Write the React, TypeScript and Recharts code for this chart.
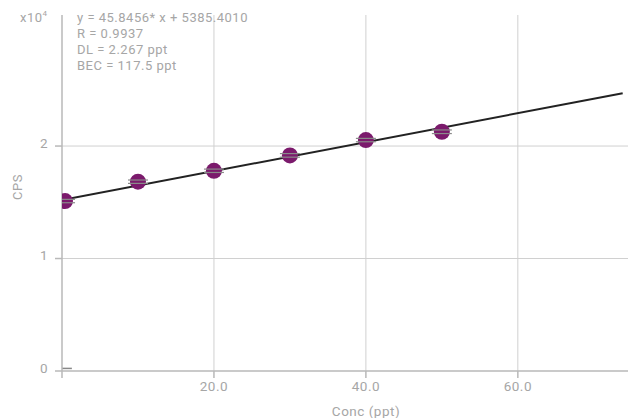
import {
	ComposedChart,
	CartesianGrid,
	ErrorBar,
	Label,
	Line,
	ReferenceLine,
	Scatter,
	XAxis,
	YAxis,
} from "recharts";

// calibration standards
const concs = [0.4, 10, 20, 30, 40, 50];
const cps = [15110, 16830, 17800, 19170, 20530, 21270];
const cpsErr = [150, 150, 150, 160, 150, 160];

// fitted line end points
const fitX = [0, 73.8];
const fitY = [15200, 24700];

const xTicks = [0, 20, 40, 60];
const yTicks = [0, 10000, 20000];

const notes = ["y = 45.8456* x + 5385.4010", "R = 0.9937", "DL = 2.267 ppt", "BEC = 117.5 ppt"];

const points = concs.map((x, i) => ({ x, y: cps[i], err: cpsErr[i] }));
const caps = points.flatMap((p) => [
	{ x: p.x, y: p.y + p.err },
	{ x: p.x, y: p.y - p.err },
]);
const fit = fitX.map((x, i) => ({ x, fy: fitY[i] }));

const PLOT_LEFT = 62;
const axisGray = "#b9b9b9";
const textGray = "#a6a6a6";
const font = "Roboto, sans-serif";
const tickStyle = { fill: textGray, fontSize: 13.5, fontFamily: font, letterSpacing: 0.5 };

// markers are cut off at the y axis, like the original plot
// eslint-disable-next-line @typescript-eslint/no-explicit-any
function Dot(props: any) {
	const { cx, cy } = props;
	return (
		<svg x={PLOT_LEFT} y={0} width={630} height={418} overflow="hidden">
			<circle cx={cx - PLOT_LEFT} cy={cy} r={8} fill="#7b1a6c" />
		</svg>
	);
}

// eslint-disable-next-line @typescript-eslint/no-explicit-any
function Cap(props: any) {
	const { cx, cy } = props;
	return (
		<svg x={PLOT_LEFT} y={0} width={630} height={418} overflow="hidden">
			<line x1={cx - PLOT_LEFT - 10} x2={cx - PLOT_LEFT + 10} y1={cy} y2={cy} stroke="#8a8a8a" strokeWidth={1.2} />
		</svg>
	);
}

export default function App() {
	return (
		<div style={{ position: "fixed", left: 0, top: 0, width: 630, height: 418, background: "#fff", fontFamily: font }}>
			<ComposedChart width={630} height={418} margin={{ top: 15, right: 2, left: 0, bottom: 0 }}>
				<CartesianGrid stroke="#d0d0d0" strokeWidth={1} horizontalValues={[10000, 20000]} verticalValues={[20, 40, 60]} />
				<XAxis
					type="number"
					dataKey="x"
					domain={[0, 74.5]}
					ticks={xTicks}
					tickFormatter={(v: number) => (v === 0 ? "" : v.toFixed(1))}
					height={47}
					allowDataOverflow
					stroke={axisGray}
					strokeWidth={1.5}
					tickSize={7}
					tickMargin={3}
					tick={tickStyle}
				>
					<Label value="Conc (ppt)" position="insideBottom" offset={2} dx={21} style={tickStyle} />
				</XAxis>
				<YAxis
					type="number"
					domain={[0, 31650]}
					ticks={yTicks}
					tickFormatter={(v: number) => String(v / 10000)}
					width={62}
					allowDataOverflow
					stroke={axisGray}
					strokeWidth={1.5}
					tickSize={7}
					tickMargin={7}
					tick={{ ...tickStyle, dy: -3 }}
				>
					<Label
						value="CPS"
						angle={-90}
						position="insideLeft"
						offset={17}
						dy={-6}
						style={{ ...tickStyle, fontSize: 13, textAnchor: "middle" }}
					/>
				</YAxis>
				<ReferenceLine
					segment={[
						{ x: 0, y: 230 },
						{ x: 1.3, y: 230 },
					]}
					stroke="#888"
					strokeWidth={1.5}
				/>
				<Scatter data={points} dataKey="y" shape={<Dot />} isAnimationActive={false} />
				<Line data={fit} dataKey="fy" stroke="#222" strokeWidth={2} dot={false} isAnimationActive={false} />
				<Scatter data={points} dataKey="y" shape={() => <g />} isAnimationActive={false}>
					<ErrorBar dataKey="err" direction="y" width={0} stroke="#8a8a8a" strokeWidth={1.2} isAnimationActive={false} />
				</Scatter>
				<Scatter data={caps} dataKey="y" shape={<Cap />} isAnimationActive={false} />
			</ComposedChart>
			<div style={{ position: "absolute", left: 20, top: 10, fontSize: 13, letterSpacing: 0.5, color: textGray, lineHeight: "16px" }}>
				x10<sup style={{ fontSize: 8, verticalAlign: "top", lineHeight: "8px" }}>4</sup>
			</div>
			<div style={{ position: "absolute", left: 77, top: 10, fontSize: 13, letterSpacing: 0.5, color: textGray, lineHeight: "16px" }}>
				{notes.map((n) => (
					<div key={n}>{n}</div>
				))}
			</div>
		</div>
	);
}
